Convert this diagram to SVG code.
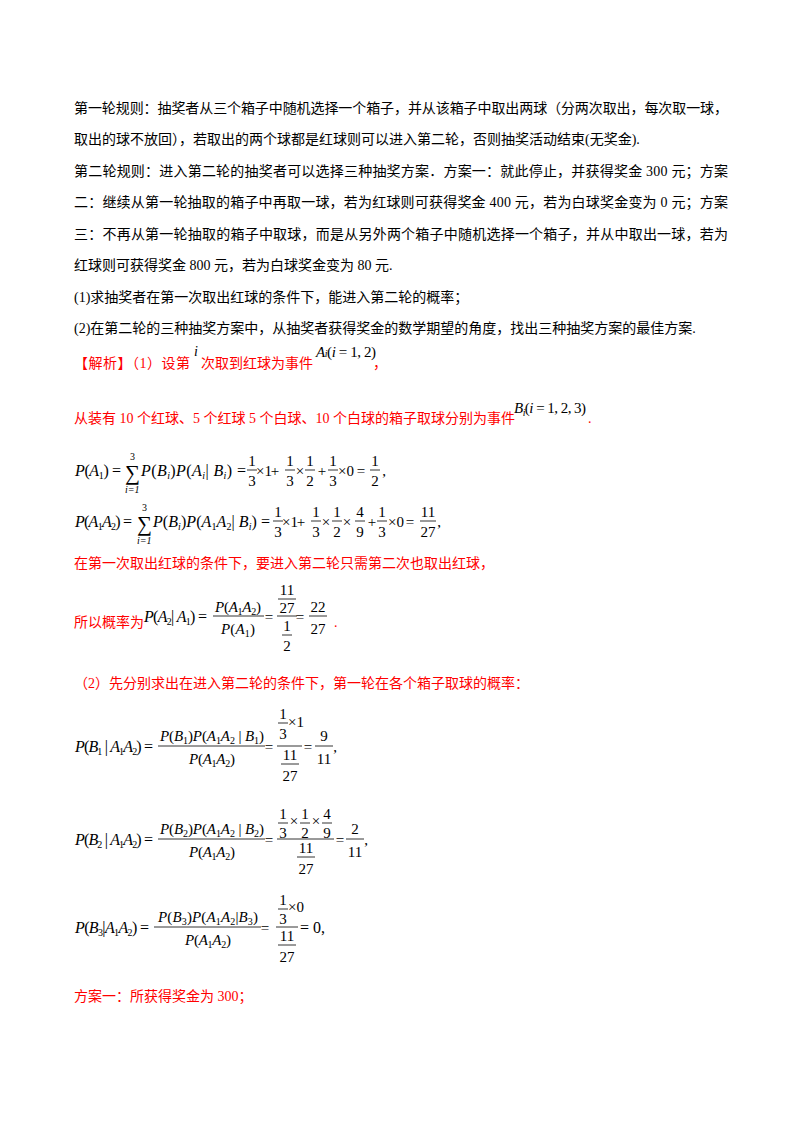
<svg xmlns="http://www.w3.org/2000/svg" width="800" height="1132" viewBox="0 0 800 1132">
<style>
.t{font-family:"Liberation Serif","Noto Sans CJK SC",serif;font-size:14px;fill:#000}
.r{fill:#ff0000}
.m{font-family:"Liberation Serif",serif;font-size:16px;fill:#000}
.s{font-size:10px}
.f{font-family:"Liberation Serif",serif;font-size:15px;fill:#000;text-anchor:middle}
.o{font-family:"Liberation Serif",serif;font-size:15px;fill:#000;text-anchor:middle}
i{font-style:italic}
line{stroke:#000;stroke-width:0.8}
</style>
<rect width="800" height="1132" fill="#fff"/>
<g class="t">
<text x="74" y="113" textLength="654">第一轮规则：抽奖者从三个箱子中随机选择一个箱子，并从该箱子中取出两球（分两次取出，每次取一球，</text>
<text x="74" y="144">取出的球不放回），若取出的两个球都是红球则可以进入第二轮，否则抽奖活动结束(无奖金).</text>
<text x="74" y="176" textLength="654">第二轮规则：进入第二轮的抽奖者可以选择三种抽奖方案．方案一：就此停止，并获得奖金 300 元；方案</text>
<text x="74" y="207" textLength="654">二：继续从第一轮抽取的箱子中再取一球，若为红球则可获得奖金 400 元，若为白球奖金变为 0 元；方案</text>
<text x="74" y="239" textLength="654">三：不再从第一轮抽取的箱子中取球，而是从另外两个箱子中随机选择一个箱子，并从中取出一球，若为</text>
<text x="74" y="270">红球则可获得奖金 800 元，若为白球奖金变为 80 元.</text>
<text x="74" y="302">(1)求抽奖者在第一次取出红球的条件下，能进入第二轮的概率；</text>
<text x="74" y="333">(2)在第二轮的三种抽奖方案中，从抽奖者获得奖金的数学期望的角度，找出三种抽奖方案的最佳方案.</text>
</g>
<g class="t r">
<text x="74" y="368" textLength="116">【解析】（1）设第</text>
<text x="201" y="368">次取到红球为事件</text>
<text x="373" y="368">，</text>
<text x="74" y="423">从装有 10 个红球、5 个红球 5 个白球、10 个白球的箱子取球分别为事件</text>
<text x="588" y="423">.</text>
<text x="74" y="568">在第一次取出红球的条件下，要进入第二轮只需第二次也取出红球，</text>
<text x="74" y="627">所以概率为</text>
<text x="334" y="627">.</text>
<text x="74" y="688">（2）先分别求出在进入第二轮的条件下，第一轮在各个箱子取球的概率：</text>
<text x="74" y="1001">方案一：所获得奖金为 300；</text>
</g>
<g class="m">
<text x="194" y="356" font-style="italic" font-size="14">i</text>
<text x="316" y="357" font-size="15" textLength="60"><tspan font-style="italic">A</tspan><tspan class="s" font-style="italic">i</tspan>(<tspan font-style="italic">i</tspan> = 1, 2)</text>
<text x="514" y="413" font-size="15" textLength="72"><tspan font-style="italic">B</tspan><tspan class="s" font-style="italic" dy="3">i</tspan><tspan dy="-3">(</tspan><tspan font-style="italic">i</tspan> = 1, 2, 3)</text>
</g>
<!-- formula 1 -->
<g class="m">
<text x="75" y="476" textLength="46"><tspan font-style="italic">P</tspan>(<tspan font-style="italic">A</tspan><tspan class="s" dy="3">1</tspan><tspan dy="-3">) =</tspan></text>
<text x="125" y="480" font-size="21">∑</text>
<text x="130" y="460" class="s">3</text><text x="125" y="493" class="s" font-style="italic">i=1</text>
<text x="141" y="476" textLength="105"><tspan font-style="italic">P</tspan>(<tspan font-style="italic">B</tspan><tspan class="s" font-style="italic" dy="3">i</tspan><tspan dy="-3">)</tspan><tspan font-style="italic">P</tspan>(<tspan font-style="italic">A</tspan><tspan class="s" font-style="italic" dy="3">i</tspan><tspan dy="-3">| </tspan><tspan font-style="italic">B</tspan><tspan class="s" font-style="italic" dy="3">i</tspan><tspan dy="-3">) =</tspan></text>
</g>
<g class="o">
<text x="264" y="476">×1</text><text x="275" y="476">+</text><text x="300" y="476">×</text><text x="322" y="476">+</text><text x="346" y="476">×0</text><text x="361" y="476">=</text><text x="384" y="476">,</text>
</g>
<g class="f">
<text x="252" y="466">1</text><line x1="247" y1="470" x2="257" y2="470"/><text x="252" y="486">3</text>
<text x="290" y="466">1</text><line x1="285" y1="470" x2="295" y2="470"/><text x="290" y="486">3</text>
<text x="310" y="466">1</text><line x1="305" y1="470" x2="315" y2="470"/><text x="310" y="486">2</text>
<text x="333" y="466">1</text><line x1="328" y1="470" x2="338" y2="470"/><text x="333" y="486">3</text>
<text x="375" y="466">1</text><line x1="370" y1="470" x2="380" y2="470"/><text x="375" y="486">2</text>
</g>
<!-- formula 2 -->
<g class="m">
<text x="75" y="527" textLength="57"><tspan font-style="italic">P</tspan>(<tspan font-style="italic">A</tspan><tspan class="s" dy="3">1</tspan><tspan font-style="italic" dy="-3">A</tspan><tspan class="s" dy="3">2</tspan><tspan dy="-3">) =</tspan></text>
<text x="137" y="531" font-size="21">∑</text>
<text x="142" y="511" class="s">3</text><text x="137" y="544" class="s" font-style="italic">i=1</text>
<text x="153" y="527" textLength="117"><tspan font-style="italic">P</tspan>(<tspan font-style="italic">B</tspan><tspan class="s" font-style="italic" dy="3">i</tspan><tspan dy="-3">)</tspan><tspan font-style="italic">P</tspan>(<tspan font-style="italic">A</tspan><tspan class="s" dy="3">1</tspan><tspan font-style="italic" dy="-3">A</tspan><tspan class="s" dy="3">2</tspan><tspan dy="-3">| </tspan><tspan font-style="italic">B</tspan><tspan class="s" font-style="italic" dy="3">i</tspan><tspan dy="-3">) =</tspan></text>
</g>
<g class="o">
<text x="290" y="527">×1</text><text x="301" y="527">+</text><text x="326" y="527">×</text><text x="347" y="527">×</text><text x="372" y="527">+</text><text x="396" y="527">×0</text><text x="410" y="527">=</text><text x="439" y="527">,</text>
</g>
<g class="f">
<text x="278" y="517">1</text><line x1="273" y1="521" x2="283" y2="521"/><text x="278" y="537">3</text>
<text x="316" y="517">1</text><line x1="311" y1="521" x2="321" y2="521"/><text x="316" y="537">3</text>
<text x="337" y="517">1</text><line x1="332" y1="521" x2="342" y2="521"/><text x="337" y="537">2</text>
<text x="360" y="517">4</text><line x1="355" y1="521" x2="365" y2="521"/><text x="360" y="537">9</text>
<text x="382" y="517">1</text><line x1="377" y1="521" x2="387" y2="521"/><text x="382" y="537">3</text>
<text x="428" y="517">11</text><line x1="420" y1="521" x2="436" y2="521"/><text x="428" y="537">27</text>
</g>
<!-- formula 3 -->
<g class="m">
<text x="144" y="622" textLength="63"><tspan font-style="italic">P</tspan>(<tspan font-style="italic">A</tspan><tspan class="s" dy="3">2</tspan><tspan dy="-3">| </tspan><tspan font-style="italic">A</tspan><tspan class="s" dy="3">1</tspan><tspan dy="-3">) =</tspan></text>
</g>
<g class="o"><text x="269" y="622">=</text><text x="300" y="622">=</text></g>
<g class="f">
<text x="238" y="612" textLength="46"><tspan font-style="italic">P</tspan>(<tspan font-style="italic">A</tspan><tspan class="s" dy="3">1</tspan><tspan font-style="italic" dy="-3">A</tspan><tspan class="s" dy="3">2</tspan><tspan dy="-3">)</tspan></text>
<line x1="213" y1="616" x2="264" y2="616"/>
<text x="238" y="634" textLength="34"><tspan font-style="italic">P</tspan>(<tspan font-style="italic">A</tspan><tspan class="s" dy="3">1</tspan><tspan dy="-3">)</tspan></text>
<text x="287" y="595">11</text><line x1="278" y1="599" x2="296" y2="599"/><text x="287" y="613">27</text>
<line x1="277" y1="616" x2="297" y2="616"/>
<text x="287" y="631">1</text><line x1="282" y1="635" x2="292" y2="635"/><text x="287" y="651">2</text>
<text x="318" y="612">22</text><line x1="309" y1="616" x2="327" y2="616"/><text x="318" y="634">27</text>
</g>
<!-- B1 -->
<g class="m">
<text x="75" y="752" textLength="78"><tspan font-style="italic">P</tspan>(<tspan font-style="italic">B</tspan><tspan class="s" dy="3">1</tspan><tspan dy="-3"> | </tspan><tspan font-style="italic">A</tspan><tspan class="s" dy="3">1</tspan><tspan font-style="italic" dy="-3">A</tspan><tspan class="s" dy="3">2</tspan><tspan dy="-3">) =</tspan></text>
</g>
<g class="o"><text x="269" y="752">=</text><text x="308" y="752">=</text><text x="335" y="752">,</text></g>
<g class="f">
<text x="212" y="741" textLength="104"><tspan font-style="italic">P</tspan>(<tspan font-style="italic">B</tspan><tspan class="s" dy="3">1</tspan><tspan dy="-3">)</tspan><tspan font-style="italic">P</tspan>(<tspan font-style="italic">A</tspan><tspan class="s" dy="3">1</tspan><tspan font-style="italic" dy="-3">A</tspan><tspan class="s" dy="3">2</tspan><tspan dy="-3"> | </tspan><tspan font-style="italic">B</tspan><tspan class="s" dy="3">1</tspan><tspan dy="-3">)</tspan></text>
<line x1="158" y1="746" x2="265" y2="746"/>
<text x="212" y="764" textLength="46"><tspan font-style="italic">P</tspan>(<tspan font-style="italic">A</tspan><tspan class="s" dy="3">1</tspan><tspan font-style="italic" dy="-3">A</tspan><tspan class="s" dy="3">2</tspan><tspan dy="-3">)</tspan></text>
<text x="283" y="719">1</text><line x1="278" y1="723" x2="288" y2="723"/><text x="283" y="739">3</text><text x="296" y="727">×1</text>
<line x1="277" y1="746" x2="302" y2="746"/>
<text x="290" y="760">11</text><line x1="281" y1="764" x2="299" y2="764"/><text x="290" y="781">27</text>
<text x="324" y="741">9</text><line x1="315" y1="746" x2="333" y2="746"/><text x="324" y="764">11</text>
</g>
<!-- B2 -->
<g class="m">
<text x="75" y="845" textLength="78"><tspan font-style="italic">P</tspan>(<tspan font-style="italic">B</tspan><tspan class="s" dy="3">2</tspan><tspan dy="-3"> | </tspan><tspan font-style="italic">A</tspan><tspan class="s" dy="3">1</tspan><tspan font-style="italic" dy="-3">A</tspan><tspan class="s" dy="3">2</tspan><tspan dy="-3">) =</tspan></text>
</g>
<g class="o"><text x="269" y="845">=</text><text x="340" y="845">=</text><text x="366" y="845">,</text></g>
<g class="f">
<text x="212" y="834" textLength="104"><tspan font-style="italic">P</tspan>(<tspan font-style="italic">B</tspan><tspan class="s" dy="3">2</tspan><tspan dy="-3">)</tspan><tspan font-style="italic">P</tspan>(<tspan font-style="italic">A</tspan><tspan class="s" dy="3">1</tspan><tspan font-style="italic" dy="-3">A</tspan><tspan class="s" dy="3">2</tspan><tspan dy="-3"> | </tspan><tspan font-style="italic">B</tspan><tspan class="s" dy="3">2</tspan><tspan dy="-3">)</tspan></text>
<line x1="158" y1="839" x2="265" y2="839"/>
<text x="212" y="857" textLength="46"><tspan font-style="italic">P</tspan>(<tspan font-style="italic">A</tspan><tspan class="s" dy="3">1</tspan><tspan font-style="italic" dy="-3">A</tspan><tspan class="s" dy="3">2</tspan><tspan dy="-3">)</tspan></text>
<text x="283" y="819">1</text><line x1="278" y1="823" x2="288" y2="823"/><text x="283" y="838">3</text>
<text x="294" y="826">×</text>
<text x="305" y="819">1</text><line x1="300" y1="823" x2="310" y2="823"/><text x="305" y="838">2</text>
<text x="316" y="826">×</text>
<text x="327" y="819">4</text><line x1="322" y1="823" x2="332" y2="823"/><text x="327" y="838">9</text>
<line x1="277" y1="839" x2="334" y2="839"/>
<text x="306" y="853">11</text><line x1="297" y1="857" x2="315" y2="857"/><text x="306" y="874">27</text>
<text x="355" y="834">2</text><line x1="346" y1="839" x2="364" y2="839"/><text x="355" y="857">11</text>
</g>
<!-- B3 -->
<g class="m">
<text x="75" y="933" textLength="74"><tspan font-style="italic">P</tspan>(<tspan font-style="italic">B</tspan><tspan class="s" dy="3">3</tspan><tspan dy="-3">|</tspan><tspan font-style="italic">A</tspan><tspan class="s" dy="3">1</tspan><tspan font-style="italic" dy="-3">A</tspan><tspan class="s" dy="3">2</tspan><tspan dy="-3">) =</tspan></text>
<text x="300" y="933">= 0,</text>
</g>
<g class="o"><text x="265" y="933">=</text></g>
<g class="f">
<text x="208" y="922" textLength="100"><tspan font-style="italic">P</tspan>(<tspan font-style="italic">B</tspan><tspan class="s" dy="3">3</tspan><tspan dy="-3">)</tspan><tspan font-style="italic">P</tspan>(<tspan font-style="italic">A</tspan><tspan class="s" dy="3">1</tspan><tspan font-style="italic" dy="-3">A</tspan><tspan class="s" dy="3">2</tspan><tspan dy="-3">|</tspan><tspan font-style="italic">B</tspan><tspan class="s" dy="3">3</tspan><tspan dy="-3">)</tspan></text>
<line x1="154" y1="927" x2="261" y2="927"/>
<text x="208" y="945" textLength="46"><tspan font-style="italic">P</tspan>(<tspan font-style="italic">A</tspan><tspan class="s" dy="3">1</tspan><tspan font-style="italic" dy="-3">A</tspan><tspan class="s" dy="3">2</tspan><tspan dy="-3">)</tspan></text>
<text x="283" y="905">1</text><line x1="278" y1="909" x2="288" y2="909"/><text x="283" y="924">3</text><text x="296" y="912">×0</text>
<line x1="276" y1="927" x2="298" y2="927"/>
<text x="287" y="941">11</text><line x1="278" y1="945" x2="296" y2="945"/><text x="287" y="962">27</text>
</g>
</svg>
